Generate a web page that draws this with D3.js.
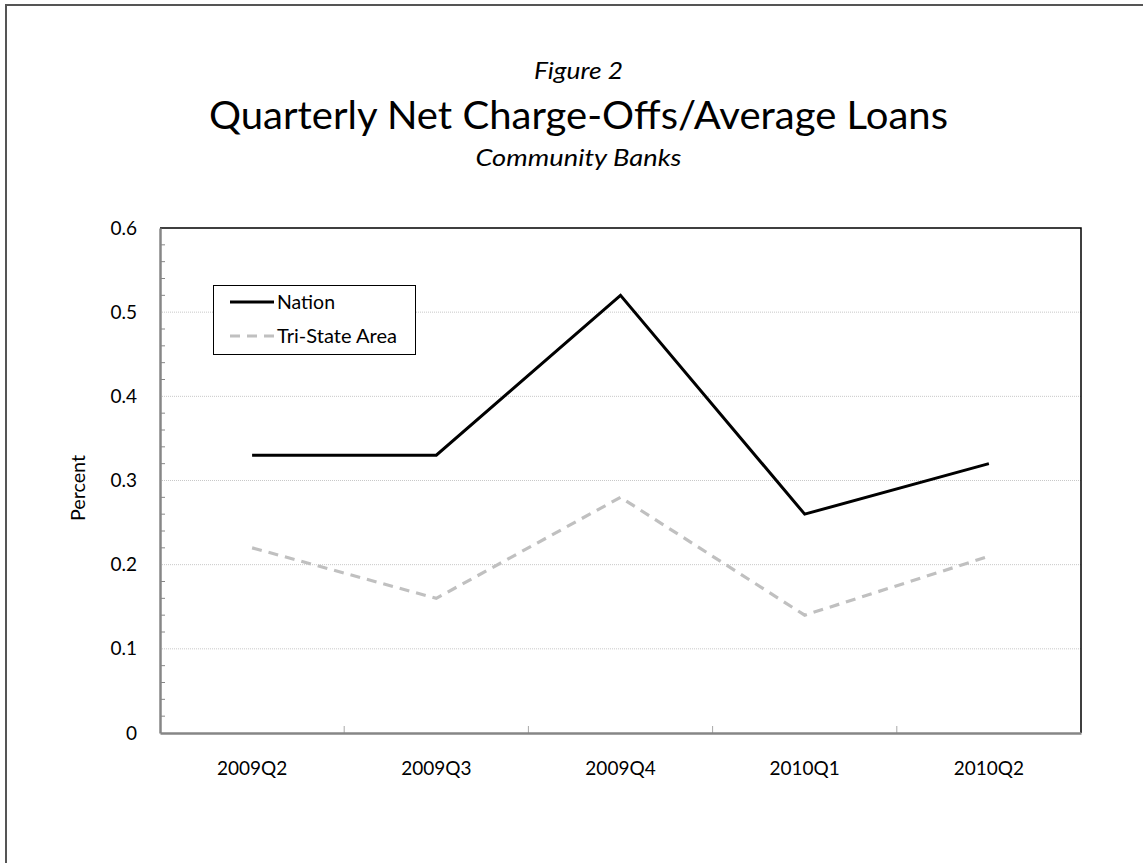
<!DOCTYPE html>
<html>
<head>
<meta charset="utf-8">
<script src="https://cdn.jsdelivr.net/npm/d3@7"></script>
<style>
  html, body { margin: 0; padding: 0; background: #fff; }
  svg { display: block; }
  text { font-family: Lato, "Open Sans", sans-serif; fill: #000; }
</style>
</head>
<body>
<svg id="chart" width="1143" height="863"></svg>
<script>
// Quarterly net charge-offs as a share of average loans (percent)
const quarters = ["2009Q2", "2009Q3", "2009Q4", "2010Q1", "2010Q2"];
const nation = [0.33, 0.33, 0.52, 0.26, 0.32];
const triState = [0.22, 0.16, 0.28, 0.14, 0.21];
const yTicks = [0, 0.1, 0.2, 0.3, 0.4, 0.5, 0.6];
const seriesNames = ["Nation", "Tri-State Area"];

const svg = d3.select("#chart");
const W = 1143, H = 863;

// outer frame
svg.append("rect")
  .attr("x", 6).attr("y", 5)
  .attr("width", W + 10).attr("height", H + 10)
  .attr("fill", "none").attr("stroke", "#555").attr("stroke-width", 2);

// titles
const cx = 578.5;
svg.append("text").attr("x", cx).attr("y", 79)
  .attr("text-anchor", "middle").attr("font-style", "italic")
  .attr("font-size", 24).attr("textLength", 89).attr("lengthAdjust", "spacingAndGlyphs")
  .text("Figure 2");
svg.append("text").attr("x", cx).attr("y", 129)
  .attr("text-anchor", "middle").attr("font-size", 39)
  .attr("textLength", 739).attr("lengthAdjust", "spacingAndGlyphs")
  .text("Quarterly Net Charge-Offs/Average Loans");
svg.append("text").attr("x", cx).attr("y", 166)
  .attr("text-anchor", "middle").attr("font-style", "italic")
  .attr("font-size", 23.5).attr("textLength", 206).attr("lengthAdjust", "spacingAndGlyphs")
  .text("Community Banks");

// plot area
const plotL = 160, plotR = 1081, plotT = 228, plotB = 733;

const x = d3.scaleBand().domain(quarters).range([plotL, plotR]).padding(0);
const y = d3.scaleLinear().domain([0, 0.6]).range([plotB, plotT]);

// horizontal gridlines
svg.append("g").selectAll("line")
  .data(yTicks.filter(d => d > 0 && d < 0.6))
  .join("line")
  .attr("x1", plotL).attr("x2", plotR)
  .attr("y1", d => y(d)).attr("y2", d => y(d))
  .attr("stroke", "#c8c8c8").attr("stroke-width", 1)
  .attr("stroke-dasharray", "1,1");

// top and right plot border
svg.append("path")
  .attr("d", `M${plotL},${plotT}H${plotR}V${plotB}`)
  .attr("fill", "none").attr("stroke", "#000").attr("stroke-width", 1.5);

// y axis with inward minor ticks
const minor = d3.range(0, 0.6001, 0.02).filter(v => Math.abs(v * 10 - Math.round(v * 10)) > 1e-6);
svg.append("g").selectAll("line")
  .data(minor).join("line")
  .attr("x1", plotL).attr("x2", plotL + 5)
  .attr("y1", d => y(d)).attr("y2", d => y(d))
  .attr("stroke", "#868686").attr("stroke-width", 1);

const yAxis = d3.axisLeft(y).tickValues(yTicks).tickSize(0).tickPadding(23)
  .tickFormat(d => d === 0 ? "0" : d3.format(".1f")(d));
const gy = svg.append("g").attr("transform", `translate(${plotL},0)`).call(yAxis);
gy.select(".domain").attr("stroke", "#868686").attr("stroke-width", 2.5);
gy.selectAll("text").attr("font-size", 19).attr("font-family", "Lato, sans-serif").attr("fill", "#000");

// x axis with inward ticks between categories
const bounds = quarters.slice(1).map(q => x(q));
svg.append("g").selectAll("line")
  .data(bounds).join("line")
  .attr("x1", d => d).attr("x2", d => d)
  .attr("y1", plotB).attr("y2", plotB - 7)
  .attr("stroke", "#a8a8a8").attr("stroke-width", 1);

const xAxis = d3.axisBottom(x).tickSize(0).tickPadding(29);
const gx = svg.append("g").attr("transform", `translate(0,${plotB})`).call(xAxis);
gx.select(".domain").attr("stroke", "#868686").attr("stroke-width", 2.5);
gx.selectAll("text").attr("font-size", 19).attr("font-family", "Lato, sans-serif").attr("fill", "#000");

// y axis title
svg.append("text")
  .attr("transform", "translate(85,488) rotate(-90)")
  .attr("text-anchor", "middle").attr("font-size", 19)
  .attr("textLength", 66).attr("lengthAdjust", "spacingAndGlyphs")
  .text("Percent");

// series lines
const line = d3.line()
  .x((d, i) => x(quarters[i]) + x.bandwidth() / 2)
  .y(d => y(d));

svg.append("path").datum(triState)
  .attr("d", line).attr("fill", "none")
  .attr("stroke", "#c0c0c0").attr("stroke-width", 3.2)
  .attr("stroke-dasharray", "10,7");

svg.append("path").datum(nation)
  .attr("d", line).attr("fill", "none")
  .attr("stroke", "#000").attr("stroke-width", 3)
  .attr("stroke-linejoin", "miter");

// legend
const lg = svg.append("g");
lg.append("rect").attr("x", 213.5).attr("y", 285.5)
  .attr("width", 202).attr("height", 69)
  .attr("fill", "#fff").attr("stroke", "#000").attr("stroke-width", 1);
const legendRows = [
  { name: seriesNames[0], color: "#000", dash: null, yy: 302, w: 58 },
  { name: seriesNames[1], color: "#c0c0c0", dash: "10,7", yy: 336, w: 120 }
];
legendRows.forEach(r => {
  lg.append("line").attr("x1", 230).attr("x2", 274)
    .attr("y1", r.yy).attr("y2", r.yy)
    .attr("stroke", r.color).attr("stroke-width", 3)
    .attr("stroke-dasharray", r.dash);
  lg.append("text").attr("x", 277).attr("y", r.yy + 6.5)
    .attr("font-size", 19).attr("textLength", r.w).attr("lengthAdjust", "spacingAndGlyphs")
    .text(r.name);
});
</script>
</body>
</html>
